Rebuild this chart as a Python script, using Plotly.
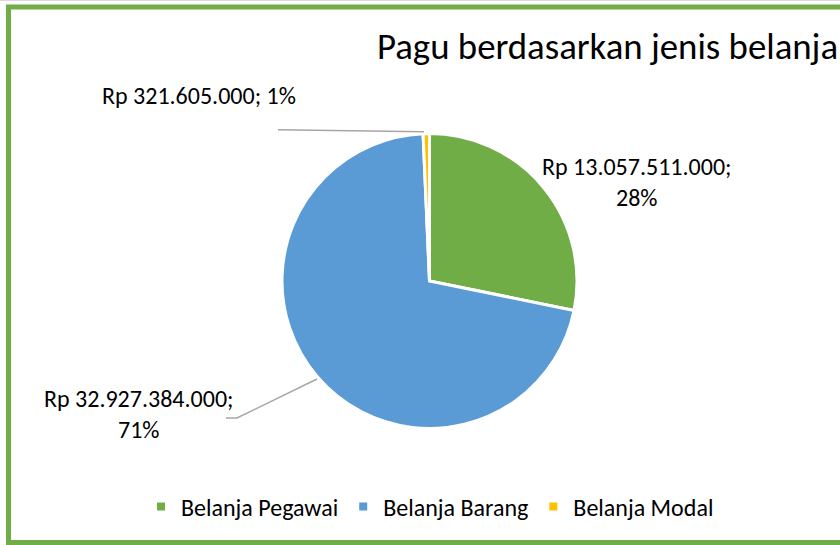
import plotly.graph_objects as go

categories = ["Belanja Pegawai", "Belanja Barang", "Belanja Modal"]
values = [13057511000, 32927384000, 321605000]
colors = ["#70AD47", "#5B9BD5", "#FFC000"]
title_text = "Pagu berdasarkan jenis belanja"

W, H = 840, 545
FONT = "Carlito, Lato, sans-serif"


def px(x):
    return x / W


def py(y):
    return 1 - y / H


total = sum(values)


def fmt(v):
    return "Rp " + f"{v:,}".replace(",", ".")


def pct(v):
    return f"{round(v / total * 100)}%"


fig = go.Figure()
fig.add_trace(go.Pie(
    labels=categories,
    values=values,
    marker=dict(colors=colors, line=dict(color="white", width=3)),
    sort=False,
    direction="clockwise",
    rotation=0,
    textinfo="none",
    hoverinfo="label+value+percent",
    showlegend=False,
    domain=dict(x=[px(282), px(577)], y=[py(428.5), py(133.5)]),
))

# legend entries (small square markers like the original)
for cat, col in zip(categories, colors):
    fig.add_trace(go.Scatter(
        x=[None], y=[None], mode="markers", name=cat,
        marker=dict(symbol="square", size=8, color=col),
        showlegend=True, hoverinfo="skip",
    ))

# data labels
label_pos = [
    (636, 182),   # Pegawai
    (138, 414),   # Barang
    (199, 95),    # Modal
]
annotations = []
for (x, y), v in zip(label_pos, values):
    if v == values[2]:
        txt = f"{fmt(v)}; {pct(v)}"
    else:
        txt = f"{fmt(v)};<br>{pct(v)}"
    annotations.append(dict(
        x=px(x), y=py(y), xref="paper", yref="paper", text=txt,
        showarrow=False, align="center", xanchor="center", yanchor="middle",
        font=dict(family=FONT, size=24, color="#000000"),
    ))

annotations.append(dict(
    x=px(375), y=py(46), xref="paper", yref="paper", text=title_text,
    showarrow=False, xanchor="left", yanchor="middle",
    font=dict(family=FONT, size=36.8, color="#000000"),
))

shapes = [
    # chart frame
    dict(type="line", xref="paper", yref="paper", x0=px(0), x1=px(W), y0=py(0.5), y1=py(0.5),
         line=dict(color="#D9D9D9", width=1)),
    dict(type="rect", xref="paper", yref="paper", x0=px(8.5), x1=px(W + 20), y0=py(542.5), y1=py(7),
         line=dict(color="#70AD47", width=5), fillcolor="rgba(0,0,0,0)", layer="below"),
    # leader lines
    dict(type="path", xref="paper", yref="paper",
         path=f"M {px(278)},{py(129.7)} L {px(424)},{py(131.7)}",
         line=dict(color="#A6A6A6", width=1.5)),
    dict(type="path", xref="paper", yref="paper",
         path=f"M {px(226)},{py(418)} L {px(237)},{py(418)} L {px(317)},{py(379)}",
         line=dict(color="#A6A6A6", width=1.5)),
]

fig.update_layout(
    width=W, height=H,
    margin=dict(l=0, r=0, t=0, b=0),
    paper_bgcolor="white",
    plot_bgcolor="white",
    font=dict(family=FONT, size=24, color="#000000"),
    showlegend=True,
    xaxis=dict(visible=False),
    yaxis=dict(visible=False),
    legend=dict(orientation="h", x=px(430), xanchor="center", y=py(507), yanchor="middle",
                font=dict(family=FONT, size=24, color="#000000"),
                itemwidth=30, traceorder="normal", bgcolor="rgba(0,0,0,0)"),
    annotations=annotations,
    shapes=shapes,
)

fig.write_html(
    "out.html",
    config={"displayModeBar": False},
    post_script="document.body.style.margin='0';document.body.style.overflow='hidden';",
)
